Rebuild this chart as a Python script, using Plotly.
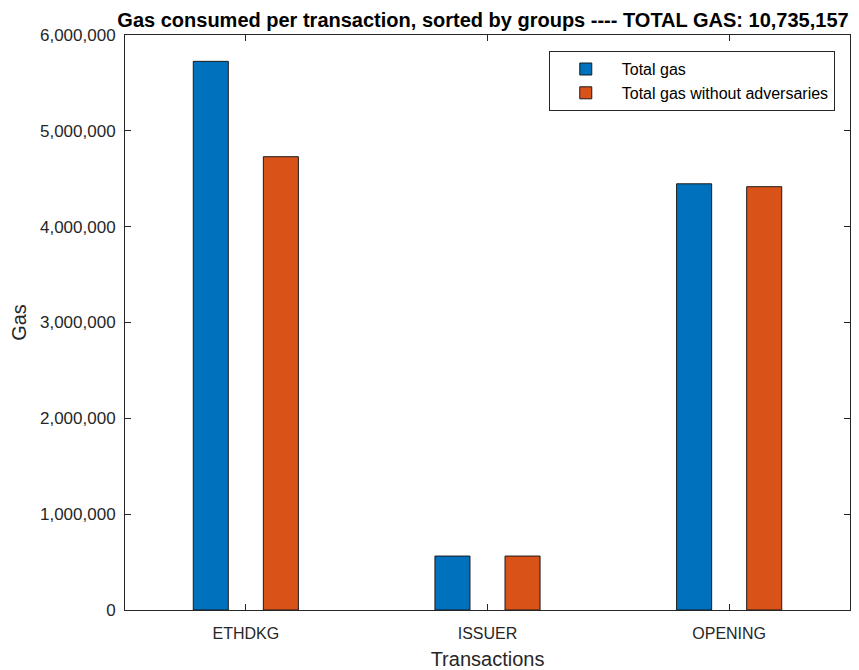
import plotly.graph_objects as go

categories = ["ETHDKG", "ISSUER", "OPENING"]
total_gas = [5725000, 563000, 4447157]
total_gas_no_adv = [4730000, 563000, 4417000]
y_ticks = [0, 1000000, 2000000, 3000000, 4000000, 5000000, 6000000]
y_tick_labels = ["0", "1,000,000", "2,000,000", "3,000,000", "4,000,000", "5,000,000", "6,000,000"]

FONT = "Liberation Sans, Arial, Helvetica, sans-serif"
AX = "#262626"

# page body has an 8px margin, so the figure is sized/positioned to compensate
W, H = 851, 662

fig = go.Figure()
fig.add_trace(go.Bar(x=categories, y=total_gas, name="Total gas",
                     marker=dict(color="#0072BD", line=dict(color="#1a1a1a", width=1))))
fig.add_trace(go.Bar(x=categories, y=total_gas_no_adv, name="Total gas without adversaries",
                     marker=dict(color="#D95319", line=dict(color="#1a1a1a", width=1))))

fig.update_layout(
    width=W, height=H,
    margin=dict(l=117, r=9, t=27, b=60, autoexpand=False),
    paper_bgcolor="white", plot_bgcolor="white",
    barmode="group", bargap=0.42, bargroupgap=0.5,
    font=dict(family=FONT, size=16, color=AX),
    title=dict(text="<b>Gas consumed per transaction, sorted by groups ---- TOTAL GAS: 10,735,157</b>",
               x=475 / W, xref="container", xanchor="center",
               y=1 - 12 / H, yref="container", yanchor="middle",
               font=dict(size=20, color="#000000")),
    legend=dict(x=0.979, y=0.972, xanchor="right", yanchor="top",
                bgcolor="white", bordercolor=AX, borderwidth=1,
                font=dict(size=16, color="#000000"), itemwidth=62,
                tracegroupgap=0),
    showlegend=True,
)
fig.update_xaxes(
    title=dict(text="Transactions", font=dict(size=20, color=AX), standoff=12),
    showline=True, linecolor=AX, linewidth=1, mirror="ticks",
    ticks="inside", ticklen=6, tickcolor=AX, automargin=False, ticklabelstandoff=9,
    showgrid=False, tickfont=dict(size=16, color=AX), range=[-0.5, 2.5],
)
fig.update_yaxes(
    title=dict(text="Gas", font=dict(size=20, color=AX), standoff=21),
    showline=True, linecolor=AX, linewidth=1, mirror="ticks",
    ticks="inside", ticklen=6, tickcolor=AX, automargin=False, ticklabelstandoff=5,
    showgrid=False, zeroline=False, range=[0, 6000000],
    tickvals=y_ticks, ticktext=y_tick_labels, tickfont=dict(size=17, color=AX),
)

fig.write_html("out.html")
